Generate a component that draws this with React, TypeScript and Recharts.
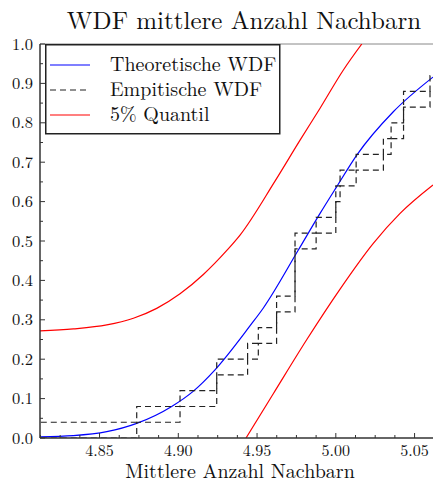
import React from 'react';
import { LineChart, Line, XAxis, YAxis, ReferenceLine, Legend } from 'recharts';

const X_MIN = 4.8122;
const X_MAX = 5.0617;

const theoX = [4.8122, 4.8334, 4.8546, 4.8736, 4.8958, 4.9096, 4.9233, 4.9456, 4.954, 4.9762, 4.99, 5.0006, 5.0133, 5.0365, 5.0617];
const theoY = [0.003, 0.006, 0.016, 0.037, 0.08, 0.119, 0.173, 0.285, 0.33, 0.477, 0.57, 0.638, 0.718, 0.828, 0.916];

const upperQX = [4.8122, 4.8334, 4.8546, 4.8715, 4.8863, 4.9011, 4.9159, 4.9308, 4.9392, 4.9614, 4.9773, 4.99, 5.0048, 5.0165];
const upperQY = [0.272, 0.277, 0.287, 0.304, 0.329, 0.366, 0.415, 0.476, 0.515, 0.652, 0.756, 0.837, 0.934, 1.0];

const lowerQX = [4.943, 4.9604, 4.9816, 5.0027, 5.0238, 5.0408, 5.0617];
const lowerQY = [0.0, 0.113, 0.25, 0.378, 0.494, 0.57, 0.642];

const empX = [4.8, 4.8736, 4.9011, 4.9244, 4.944, 4.9508, 4.9624, 4.9741, 4.9875, 5.0, 5.0027, 5.0129, 5.0302, 5.0351, 5.043, 5.0598, 5.08];
const empUpper = [0.04, 0.08, 0.12, 0.2, 0.24, 0.28, 0.36, 0.52, 0.56, 0.64, 0.68, 0.72, 0.76, 0.8, 0.88, 0.92, 0.92];
const empLower = [0.0, 0.04, 0.08, 0.16, 0.2, 0.24, 0.32, 0.48, 0.52, 0.6, 0.64, 0.68, 0.72, 0.76, 0.84, 0.88, 0.88];

const xTicks = [4.8125, 4.825, 4.8375, 4.85, 4.8625, 4.875, 4.8875, 4.9, 4.9125, 4.925, 4.9375, 4.95, 4.9625, 4.975, 4.9875, 5.0, 5.0125, 5.025, 5.0375, 5.05];
const yTicks = [0, 0.05, 0.1, 0.15, 0.2, 0.25, 0.3, 0.35, 0.4, 0.45, 0.5, 0.55, 0.6, 0.65, 0.7, 0.75, 0.8, 0.85, 0.9, 0.95, 1.0];

const legendLabels = ['Theoretische WDF', 'Empitische WDF', '5% Quantil'];
const titleText = 'WDF mittlere Anzahl Nachbarn';
const xLabelText = 'Mittlere Anzahl Nachbarn';

const fontStyle = { fontFamily: "'Latin Modern Roman'" };

const zip = (xs: number[], ys: number[]) => xs.map((x, i) => ({ x, y: ys[i] }));
const theoData = zip(theoX, theoY);
const upperQData = zip(upperQX, upperQY);
const lowerQData = zip(lowerQX, lowerQY);
const empUpperData = zip(empX, empUpper);
const empLowerData = zip(empX, empLower);

const isMult = (v: number, k: number) => Math.abs(v * k - Math.round(v * k)) < 1e-6;

const XTick = (p: any) => {
  const v = p.payload.value;
  const major = isMult(v, 20);
  return (
    <g>
      <line x1={p.x} x2={p.x} y1={p.y} y2={p.y - (major ? 5 : 3)} stroke="#333" strokeWidth={1} />
      {major && (
        <text x={p.x} y={p.y + 18} textAnchor="middle" style={fontStyle} fontSize={16} fill="#111">
          {v.toFixed(2)}
        </text>
      )}
    </g>
  );
};

const YTick = (p: any) => {
  const v = p.payload.value;
  const major = isMult(v, 10);
  return (
    <g>
      <line x1={p.x} x2={p.x + (major ? 5 : 3)} y1={p.y} y2={p.y} stroke="#333" strokeWidth={1} />
      {major && (
        <text x={p.x - 7} y={p.y + 5.5} textAnchor="end" style={fontStyle} fontSize={16.5} fill="#111">
          {v.toFixed(1)}
        </text>
      )}
    </g>
  );
};

const legendStyles = [
  { stroke: '#0000ff', dash: undefined as string | undefined },
  { stroke: '#222', dash: '6 4' },
  { stroke: '#ff0000', dash: undefined as string | undefined },
];

const LegendBox = () => (
  <svg width={236} height={91} style={{ display: 'block' }}>
    <rect x={0.75} y={0.75} width={234} height={89} fill="#fff" stroke="#222" strokeWidth={1.5} />
    {legendLabels.map((lab, i) => (
      <g key={lab}>
        <line x1={5} x2={45} y1={21 + i * 25} y2={21 + i * 25} stroke={legendStyles[i].stroke} strokeWidth={1.2} strokeDasharray={legendStyles[i].dash} />
        <text x={65} y={27 + i * 25} style={fontStyle} fontSize={20} fill="#111">{lab}</text>
      </g>
    ))}
  </svg>
);

export default function App() {
  return (
    <div style={{ position: 'absolute', left: 0, top: 0, width: 433, height: 483, background: '#fff' }}>
      <LineChart width={433} height={483} margin={{ top: 44, right: 0, bottom: 0, left: 0 }}>
        <XAxis
          type="number"
          dataKey="x"
          domain={[X_MIN, X_MAX]}
          allowDataOverflow
          ticks={xTicks}
          interval={0}
          height={45}
          tickSize={0}
          tickMargin={0}
          tickLine={false}
          tick={XTick}
          axisLine={{ stroke: '#333', strokeWidth: 1.5 }}
        />
        <YAxis
          type="number"
          dataKey="y"
          domain={[0, 1]}
          allowDataOverflow
          ticks={yTicks}
          interval={0}
          width={40}
          tickSize={0}
          tickMargin={0}
          tickLine={false}
          tick={YTick}
          axisLine={{ stroke: '#333', strokeWidth: 1.5 }}
        />
        <ReferenceLine y={1} stroke="#888" strokeWidth={1} />
        <Line data={theoData} dataKey="y" type="monotone" stroke="#0000ff" strokeWidth={1.2} dot={false} isAnimationActive={false} name={legendLabels[0]} />
        <Line data={empUpperData} dataKey="y" type="stepAfter" stroke="#222" strokeWidth={1.2} strokeDasharray="6 4" dot={false} isAnimationActive={false} name={legendLabels[1]} />
        <Line data={empLowerData} dataKey="y" type="stepAfter" stroke="#222" strokeWidth={1.2} strokeDasharray="6 4" dot={false} isAnimationActive={false} legendType="none" />
        <Line data={upperQData} dataKey="y" type="monotone" stroke="#ff0000" strokeWidth={1.2} dot={false} isAnimationActive={false} name={legendLabels[2]} />
        <Line data={lowerQData} dataKey="y" type="monotone" stroke="#ff0000" strokeWidth={1.2} dot={false} isAnimationActive={false} legendType="none" />
        <Legend
          layout="horizontal"
          verticalAlign="middle"
          align="center"
          content={LegendBox}
          wrapperStyle={{ position: 'absolute', left: 45, top: 44, width: 236, height: 91 }}
        />
      </LineChart>
      <svg width={433} height={483} style={{ position: 'absolute', left: 0, top: 0, pointerEvents: 'none' }}>
        <text x={244} y={29} textAnchor="middle" style={fontStyle} fontSize={25} fill="#111">{titleText}</text>
        <text x={240} y={478} textAnchor="middle" style={fontStyle} fontSize={20} fill="#111">{xLabelText}</text>
      </svg>
    </div>
  );
}
